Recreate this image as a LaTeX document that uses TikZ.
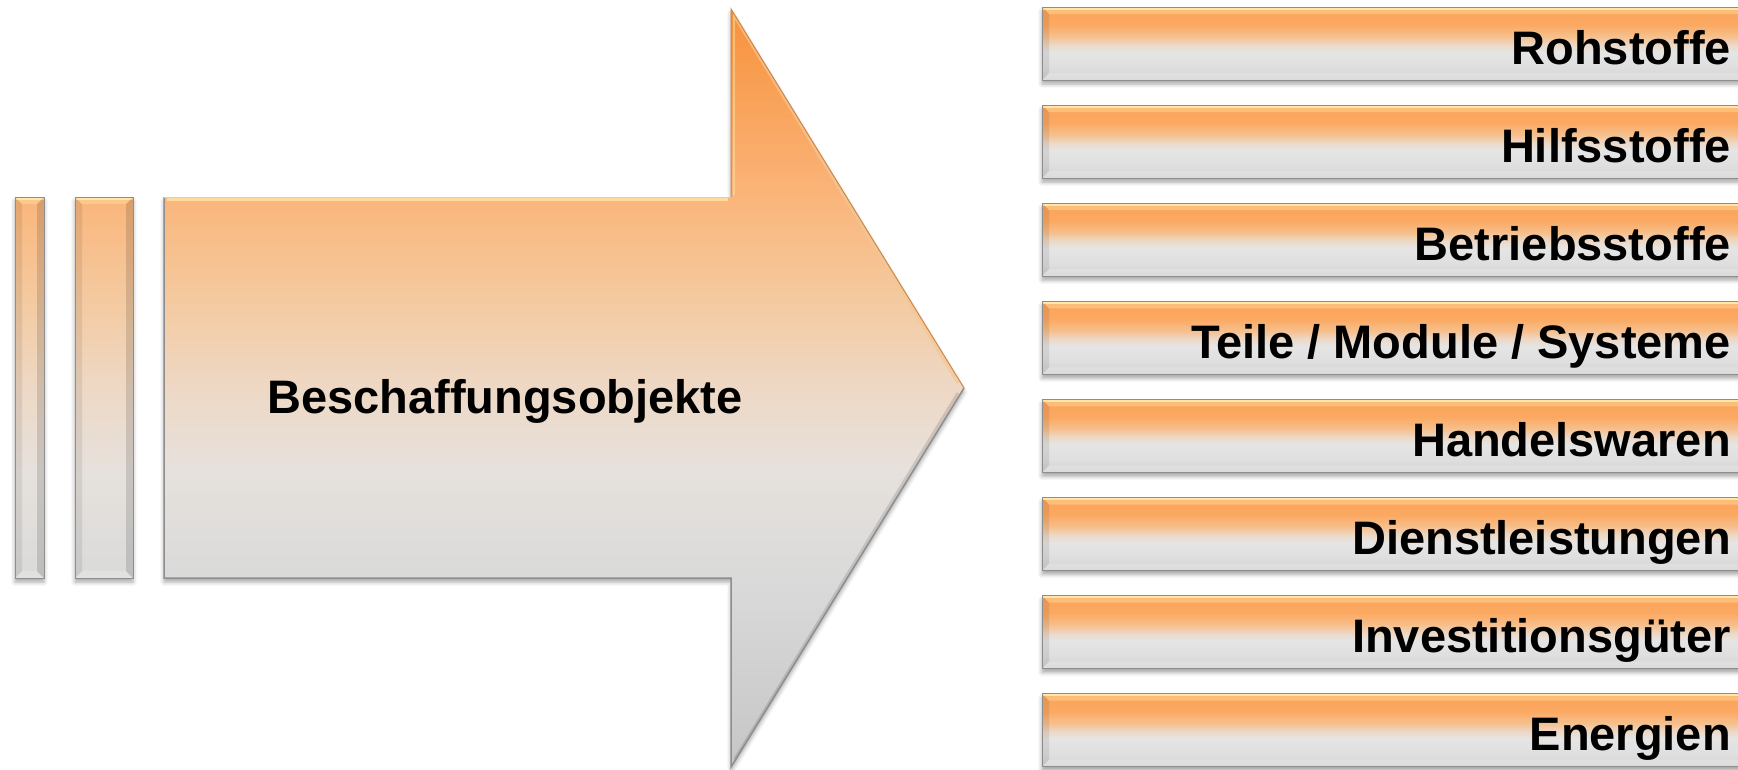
\documentclass[tikz,border=0pt]{standalone}
\usepackage{fontspec}
\setmainfont{Liberation Sans}
\usetikzlibrary{calc,shadows.blur}

% palette
\definecolor{arTop}{HTML}{F7913B}
\definecolor{orA}{HTML}{FAB57A}
\definecolor{orB}{HTML}{F4CAA0}
\definecolor{peach}{HTML}{EED8C5}
\definecolor{greyA}{HTML}{E6E1DC}
\definecolor{greyB}{HTML}{DADADA}
\definecolor{greyC}{HTML}{C6C6C6}
\definecolor{barTop}{HTML}{FBA259}
\definecolor{barB}{HTML}{FBA962}
\definecolor{barC}{HTML}{F6BF8C}
\definecolor{barD}{HTML}{ECD9C8}
\definecolor{barE}{HTML}{E5E5E5}
\definecolor{barF}{HTML}{DFDFDF}
\definecolor{barBot}{HTML}{D2D2D2}
\definecolor{edge}{HTML}{8E8E8E}
\definecolor{glint}{HTML}{FFE6A8}
\definecolor{rim}{HTML}{D08644}
\definecolor{rimlight}{HTML}{F2C898}

% big arrow: deep orange at the top fading to grey at the bottom
\pgfdeclareverticalshading{arrowshade}{100bp}{
  color(0bp)=(greyC); color(25bp)=(greyC); color(37.5bp)=(greyB);
  color(44.6bp)=(greyA); color(50bp)=(peach); color(55.8bp)=(orB);
  color(62.6bp)=(orA); color(75bp)=(arTop); color(100bp)=(arTop)}
% tall bars on the left, same tones as the arrow body
\pgfdeclareverticalshading{tallshade}{100bp}{
  color(0bp)=(greyB); color(25bp)=(greyB); color(39bp)=(greyA);
  color(50bp)=(peach); color(61.5bp)=(orB); color(75bp)=(orA); color(100bp)=(orA)}
% flat bars on the right
\pgfdeclareverticalshading{barshade}{100bp}{
  color(0bp)=(barBot); color(25bp)=(barBot); color(34bp)=(barF);
  color(44bp)=(barE); color(49bp)=(barD); color(55bp)=(barC);
  color(63bp)=(barB); color(75bp)=(barTop); color(100bp)=(barTop)}

\def\bv{7pt}
\tikzset{
  x=1pt, y=-1pt,
  bevelbox/.style={
    rectangle, inner sep=0pt, outer sep=0pt, draw=edge, line width=0.8pt,
    blur shadow={shadow xshift=0pt, shadow yshift=-4pt,
                 shadow blur radius=4pt, shadow opacity=35},
    path picture={
      \coordinate (bnw) at (path picture bounding box.north west);
      \coordinate (bne) at (path picture bounding box.north east);
      \coordinate (bsw) at (path picture bounding box.south west);
      \coordinate (bse) at (path picture bounding box.south east);
      \fill[glint, opacity=.4] (bnw) -- (bne) -- ([xshift=-\bv,yshift=-\bv]bne)
        -- ([xshift=\bv,yshift=-\bv]bnw) -- cycle;
      \draw[glint, line width=2pt] ([yshift=-1.5pt]bnw) -- ([yshift=-1.5pt]bne);
      \fill[white, opacity=.2] (bsw) -- (bse) -- ([xshift=-\bv,yshift=\bv]bse)
        -- ([xshift=\bv,yshift=\bv]bsw) -- cycle;
      \fill[black, opacity=.08] (bnw) -- (bsw) -- ([xshift=\bv,yshift=\bv]bsw)
        -- ([xshift=\bv,yshift=-\bv]bnw) -- cycle;
      \fill[black, opacity=.13] (bne) -- (bse) -- ([xshift=-\bv,yshift=\bv]bse)
        -- ([xshift=-\bv,yshift=-\bv]bne) -- cycle;
    }},
  tallbar/.style={bevelbox, shading=tallshade, anchor=north west,
    minimum height=381pt},
  listbar/.style={bevelbox, shading=barshade, anchor=north west,
    minimum width=720pt, minimum height=73pt},
  lbl/.style={font=\bfseries\fontsize{47}{56}\selectfont, text=black,
    inner sep=0pt, anchor=base east},
}

\begin{document}
\begin{tikzpicture}
\useasboundingbox (0,0) rectangle (1738,769);
\clip (0,0) rectangle (1738,769);

% two slim bars in front of the arrow
\node[tallbar, minimum width=29pt] (s1) at (15,197) {};
\node[tallbar, minimum width=58pt] (s2) at (75,197) {};

% the big arrow
\path[shading=arrowshade,
      blur shadow={shadow xshift=0pt, shadow yshift=-4pt,
                   shadow blur radius=4pt, shadow opacity=35}]
  (164,197) -- (731,197) -- (731,9) -- (964,388) -- (731,767)
  -- (731,578) -- (164,578) -- cycle;
\draw[glint, line width=3pt, opacity=.8] (167,199.5) -- (728,199.5);
\draw[glint, line width=2pt, opacity=.5] (734,14) -- (734,195);
\draw[rimlight, line width=3pt, opacity=.7] (735,17) -- (958,383);
\draw[rim, line width=1pt] (731,197) -- (731,9) -- (964,388);
\draw[black, line width=3pt, opacity=.12] (958,393) -- (735,759);
\draw[edge, line width=1.5pt] (964,388) -- (731,767) -- (731,578) -- (164,578) -- (164,197);
\draw[rimlight, line width=1pt] (164,197) -- (731,197);

\node[font=\bfseries\fontsize{47}{56}\selectfont, inner sep=0pt, anchor=base]
  (main) at (505,413) {Beschaffungsobjekte};

% list of procurement objects
\foreach \i/\txt in {0/Rohstoffe, 1/Hilfsstoffe, 2/Betriebsstoffe,
    3/{Teile / Module / Systeme}, 4/Handelswaren, 5/Dienstleistungen,
    6/Investitionsgüter, 7/Energien} {
  \node[listbar] (b\i) at (1042, 7+98.1*\i) {};
  \node[lbl] (t\i) at (1731, 64+98.1*\i) {\txt};
}
\end{tikzpicture}
\end{document}
